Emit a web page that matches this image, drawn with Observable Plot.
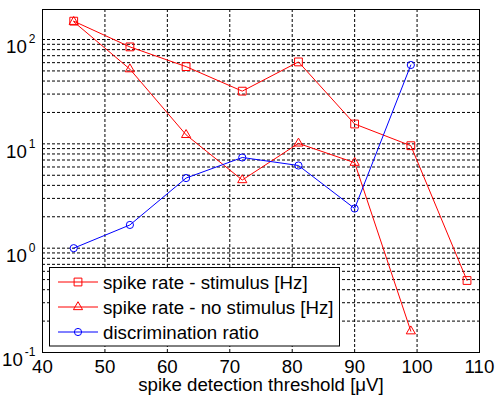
<!DOCTYPE html>
<html><head><meta charset="utf-8">
<script src="https://cdn.jsdelivr.net/npm/d3@7"></script>
<script src="https://cdn.jsdelivr.net/npm/@observablehq/plot@0.6"></script>
<style>
body{margin:0;background:#fff}
svg{display:block}
</style>
</head><body><div id="chart"></div>
<script>
// ---- data ----
const thresholds = [45, 54, 63, 72, 81, 90, 99, 108];
const rateStimulus = [150, 85, 55, 32, 61, 15.5, 9.6, 0.49];
const rateNoStimulus = [148, 52, 12.2, 4.5, 10.1, 6.6, 0.16];
const discriminationRatio = [1.0, 1.67, 4.7, 7.4, 6.2, 2.4, 57];
const seriesNames = ["spike rate - stimulus [Hz]", "spike rate - no stimulus [Hz]", "discrimination ratio"];
const seriesColors = ["#ff0000", "#ff0000", "#0000ff"];
const seriesSymbols = ["square", "triangle", "circle"];
const xTicks = [40, 50, 60, 70, 80, 90, 100, 110];
const yMajorTicks = [0.1, 1, 10, 100];
const yGridTicks = [0.1,0.2,0.3,0.4,0.5,0.6,0.7,0.8,0.9,1,2,3,4,5,6,7,8,9,10,20,30,40,50,60,70,80,90,100];
const xLabel = "spike detection threshold [μV]";

const seriesValues = [rateStimulus, rateNoStimulus, discriminationRatio];
const rows = [];
seriesValues.forEach((vals, s) => vals.forEach((v, i) => rows.push({
  series: seriesNames[s], color: seriesColors[s], symbol: seriesSymbols[s], x: thresholds[i], y: v
})));

const font = "'Liberation Sans', Arial, sans-serif";
const fs = 18.7;
const grid = {stroke: "#000", strokeOpacity: 1, strokeWidth: 1, strokeDasharray: "3,2"};

const marks = [
  Plot.ruleX(xTicks.slice(1, -1), grid),
  Plot.ruleY(yGridTicks, grid),
  Plot.axisX({ticks: xTicks, tickSize: 0, tickPadding: 7, label: xLabel, labelAnchor: "center", labelArrow: "none", labelOffset: 38, fontSize: fs}),
  Plot.axisY({ticks: yMajorTicks, tickSize: 0, tickPadding: 7, tickFormat: d => String(Math.round(Math.log10(d))), label: null, fontSize: fs}),
  Plot.line(rows, {x: "x", y: "y", z: "series", stroke: "color", strokeWidth: 1}),
];
seriesNames.forEach((name, s) => {
  marks.push(Plot.dot(rows.filter(d => d.series === name), {
    x: "x", y: "y", symbol: () => seriesSymbols[s], stroke: seriesColors[s], fill: "none",
    r: s === 1 ? 3.4 : (s === 0 ? 4.4 : 3.6), strokeWidth: 1
  }));
});
marks.push(Plot.frame({stroke: "#000", strokeWidth: 1}));

const chart = Plot.plot({
  width: 497, height: 400,
  marginLeft: 42, marginRight: 18, marginTop: 9, marginBottom: 48,
  style: {fontFamily: font, fontSize: fs + "px", color: "#000", background: "#fff"},
  x: {domain: [40, 110]},
  y: {type: "log", domain: [0.1, 194]},
  color: {type: "identity"},
  symbol: {type: "identity"},
  marks
});

const svg = d3.select(chart);
// exponent tick labels
svg.selectAll("g[aria-label='y-axis tick label'] text").each(function() {
  const t = d3.select(this);
  const e = t.text();
  t.text("");
  t.attr("dy", "0.42em");
  t.append("tspan").text("10");
  t.append("tspan").attr("dy", "-10").attr("font-size", "12px").attr("dx", "2").text(e.replace("−", "-"));
});

// legend
const lg = svg.append("g").attr("font-family", font).attr("font-size", fs + "px").attr("text-anchor", "start");
lg.append("rect").attr("x", 49.5).attr("y", 267.5).attr("width", 290).attr("height", 78.5)
  .attr("fill", "#fff").attr("stroke", "#000").attr("stroke-width", 1);
const sym = {square: d3.symbolSquare, triangle: d3.symbolTriangle, circle: d3.symbolCircle};
const rad = [4.4, 3.4, 3.6];
seriesNames.forEach((name, s) => {
  const cy = 282 + s * 25;
  lg.append("line").attr("x1", 58).attr("x2", 98).attr("y1", cy).attr("y2", cy).attr("stroke", seriesColors[s]);
  lg.append("path").attr("transform", `translate(78,${cy})`)
    .attr("d", d3.symbol(sym[seriesSymbols[s]], Math.PI * rad[s] * rad[s])())
    .attr("fill", "none").attr("stroke", seriesColors[s]);
  lg.append("text").attr("x", 103).attr("y", cy + 6.5).attr("fill", "#000").attr("text-anchor", "start").text(name);
});

document.getElementById("chart").appendChild(chart);
</script>
</body></html>
